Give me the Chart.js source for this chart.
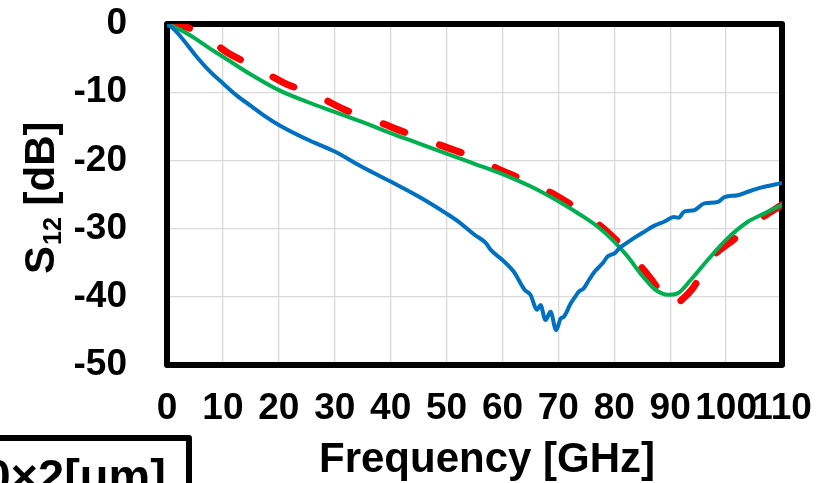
<!DOCTYPE html>
<html>
<head>
<meta charset="utf-8">
<script src="https://cdn.jsdelivr.net/npm/chart.js@4/dist/chart.umd.min.js"></script>
<style>
  html, body { margin: 0; padding: 0; background: #fff; }
  #wrap { width: 825px; height: 483px; position: relative; overflow: hidden; }
</style>
</head>
<body>
<div id="wrap"><canvas id="c" width="825" height="483"></canvas></div>
<script>
// ---- data (frequency in GHz, S12 in dB) ----
const blueFreq = [0, 1, 2.5, 5, 7.5, 10, 12.5, 15, 17.5, 20, 25, 30, 35, 40, 45, 50, 52, 55, 57, 58, 60, 62, 64, 65, 66.2, 66.8, 67.7, 68.6, 69.6, 70.4, 71.0, 72.2, 73.0, 73.7, 74.5, 75.5, 76.5, 77.3, 78.0, 78.8, 80.1, 81.0, 81.7, 83.5, 85.3, 87.1, 88.9, 90.7, 91.5, 92.5, 94.3, 96.1, 98.5, 99.7, 102.1, 103.9, 106.2, 110];
const blueS12 = [0, -0.6, -1.9, -4.5, -6.8, -8.7, -10.5, -12.0, -13.5, -14.8, -16.9, -18.7, -21.0, -23.1, -25.3, -27.8, -28.9, -30.9, -32.1, -33.2, -34.6, -36.3, -39.0, -39.7, -41.9, -41.2, -43.4, -42.2, -44.9, -43.2, -42.9, -41.0, -40.0, -39.2, -38.8, -37.5, -36.3, -35.6, -35.0, -34.1, -33.6, -32.8, -32.4, -31.4, -30.5, -29.6, -29.0, -28.3, -28.4, -27.5, -27.3, -26.3, -26.1, -25.4, -25.1, -24.6, -24.0, -23.3];

const greenFreq = [0, 2.5, 5, 7.5, 10, 15, 20, 25, 30, 35, 40, 45, 50, 55, 60, 65, 70, 74, 77, 80, 82.4, 84.7, 87.1, 88.5, 89.6, 91.3, 93.7, 96.7, 100.3, 103.9, 106.8, 110];
const greenS12 = [0, -0.9, -2.1, -3.5, -4.8, -7.4, -9.7, -11.4, -12.9, -14.4, -16.0, -17.5, -19.0, -20.5, -22.0, -23.8, -26.0, -28.0, -29.7, -31.9, -34.1, -36.6, -38.8, -39.5, -39.7, -39.5, -37.5, -34.6, -31.4, -29.0, -27.8, -26.5];

const redFreq = [0, 2, 5.5, 11.0, 15.8, 21.1, 26.5, 31.9, 37.3, 42.9, 48.3, 53.7, 59.1, 64.4, 69.5, 74.6, 78.8, 83.2, 86.5, 88.5, 90.4, 92.0, 94.0, 97.3, 101.2, 105.9, 110];
const redS12 = [0, -0.2, -1.1, -4.3, -6.3, -8.7, -10.4, -12.6, -14.2, -16.0, -17.6, -19.2, -21.2, -23.1, -25.1, -27.8, -30.5, -34.1, -37.3, -39.6, -41.4, -40.5, -38.8, -34.4, -31.7, -28.7, -26.5];

const xTicks = [0, 10, 20, 30, 40, 50, 60, 70, 80, 90, 100, 110];
const yTicks = [-50, -40, -30, -20, -10, 0];

const xTitle = 'Frequency [GHz]';
const yTitleMain = 'S';
const yTitleSub = '12';
const yTitleRest = ' [dB]';
const boxText = '0×2[um]';

const toPts = (xs, ys) => xs.map((x, i) => ({ x: x, y: ys[i] }));

const FONT = '"Liberation Sans", Arial, Helvetica, sans-serif';
Chart.defaults.font.family = FONT;

const deco = {
  id: 'deco',
  beforeDatasetsDraw(chart) {
    const { ctx, chartArea: a } = chart;
    ctx.save();
    ctx.strokeStyle = '#000';
    ctx.lineWidth = 6;
    ctx.lineJoin = 'round';
    ctx.strokeRect(a.left, a.top, a.right - a.left, a.bottom - a.top);
    ctx.restore();
  },
  afterDraw(chart) {
    const { ctx } = chart;
    ctx.save();
    ctx.fillStyle = '#000';
    // x title
    ctx.font = 'bold 42px ' + FONT;
    ctx.textAlign = 'center';
    ctx.textBaseline = 'alphabetic';
    ctx.fillText(xTitle, 487, 472);
    // y title (rotated, with subscript)
    ctx.translate(54, 274);
    ctx.rotate(-Math.PI / 2);
    ctx.textAlign = 'left';
    ctx.font = 'bold 42px ' + FONT;
    ctx.fillText(yTitleMain, 0, 0);
    let w = ctx.measureText(yTitleMain).width;
    ctx.font = 'bold 25px ' + FONT;
    ctx.fillText(yTitleSub, w + 1, 7);
    w += ctx.measureText(yTitleSub).width + 1;
    ctx.font = 'bold 42px ' + FONT;
    ctx.fillText(yTitleRest, w, 0);
    ctx.restore();
    // partial box bottom-left
    ctx.save();
    ctx.fillStyle = '#fff';
    ctx.fillRect(-10, 438, 199, 60);
    ctx.strokeStyle = '#000';
    ctx.lineWidth = 6;
    ctx.lineJoin = 'round';
    ctx.beginPath();
    ctx.moveTo(-10, 438);
    ctx.lineTo(189, 438);
    ctx.lineTo(189, 500);
    ctx.stroke();
    ctx.fillStyle = '#000';
    ctx.font = 'bold 47px ' + FONT;
    ctx.textAlign = 'right';
    ctx.textBaseline = 'alphabetic';
    ctx.fillText(boxText, 166, 492);
    ctx.restore();
  }
};

new Chart(document.getElementById('c'), {
  type: 'line',
  data: {
    datasets: [
      { label: 'blue', data: toPts(blueFreq, blueS12), borderColor: '#0070C0', borderWidth: 4, pointRadius: 0, cubicInterpolationMode: 'monotone', borderCapStyle: 'round', borderJoinStyle: 'round', order: 1 },
      { label: 'green', data: toPts(greenFreq, greenS12), borderColor: '#00B050', borderWidth: 4, pointRadius: 0, cubicInterpolationMode: 'monotone', borderCapStyle: 'round', borderJoinStyle: 'round', order: 2 },
      { label: 'red', data: toPts(redFreq, redS12), borderColor: '#FF0000', borderWidth: 7, pointRadius: 0, cubicInterpolationMode: 'monotone', borderCapStyle: 'round', borderJoinStyle: 'round', borderDash: [23, 37], order: 3 }
    ]
  },
  options: {
    responsive: false,
    animation: false,
    devicePixelRatio: 1,
    layout: { padding: { top: 24, right: 43, left: 0, bottom: 0 } },
    plugins: { legend: { display: false }, tooltip: { enabled: false } },
    scales: {
      x: {
        type: 'linear', min: 0, max: 110,
        afterBuildTicks: s => { s.ticks = xTicks.map(v => ({ value: v })); },
        afterFit: s => { s.height = 118; s.paddingLeft = 0; s.paddingRight = 0; },
        grid: { color: '#D9D9D9', lineWidth: 1.3, drawTicks: false },
        border: { display: false },
        ticks: { padding: 22, color: '#000', font: { size: 37, weight: 'bold' }, maxRotation: 0, autoSkip: false }
      },
      y: {
        type: 'linear', min: -50, max: 0,
        afterBuildTicks: s => { s.ticks = yTicks.map(v => ({ value: v })); },
        afterFit: s => { s.width = 167; s.paddingTop = 0; s.paddingBottom = 0; },
        grid: { color: '#D9D9D9', lineWidth: 1.3, drawTicks: false },
        border: { display: false },
        ticks: { padding: 40, color: '#000', font: { size: 37, weight: 'bold' } }
      }
    }
  },
  plugins: [deco]
});
</script>
</body>
</html>
